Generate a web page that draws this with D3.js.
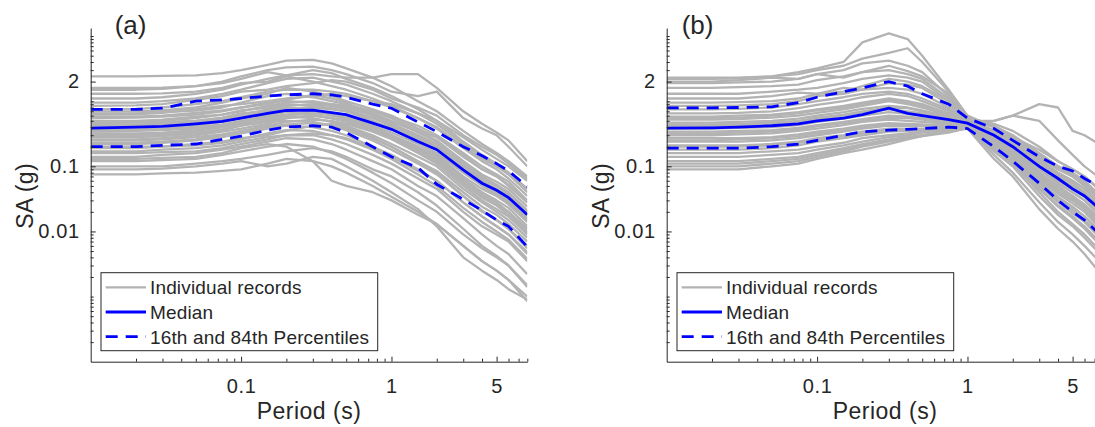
<!DOCTYPE html>
<html>
<head>
<meta charset="utf-8">
<script src="https://cdn.jsdelivr.net/npm/d3@7"></script>
<style>
  body { margin: 0; background: #fff; }
  svg text { font-family: Arial, "Liberation Sans", Helvetica, sans-serif; fill: #262626; }
</style>
</head>
<body>
<div id="ui"></div>
<script>
// periods (s) at which every spectrum is sampled
var periods = [0.01, 0.02, 0.03, 0.05, 0.075, 0.1, 0.15, 0.2, 0.3, 0.4, 0.5, 0.75, 1, 1.5, 2, 3, 4, 5, 6, 8];

// panel (a) individual records, SA (g)
var recordsA = [
  [2.4,2.4,2.45,2.5,2.7,3.0,3.6,4.2,4.3,3.8,3.2,2.3,1.7,1.0,0.7,0.35,0.22,0.16,0.12,0.07],
  [1.1,1.1,1.15,1.3,1.5,1.8,2.2,2.5,2.6,2.4,2.3,2.3,2.6,2.6,1.6,0.7,0.45,0.33,0.25,0.12],
  [1.5,1.5,1.55,1.7,2.0,2.4,3.0,3.3,3.4,3.0,2.6,1.9,1.4,1.2,1.4,0.55,0.38,0.3,0.2,0.1],
  [0.95,0.95,1.0,1.1,1.3,1.5,1.9,2.2,2.3,2.0,1.8,1.3,1.0,0.65,0.5,0.28,0.18,0.13,0.1,0.06],
  [0.85,0.86,0.9,1.05,1.2,1.4,1.5,1.7,1.9,2.1,2.0,1.5,1.1,0.8,0.6,0.3,0.2,0.15,0.11,0.065],
  [0.75,0.76,0.8,0.9,1.0,1.15,1.4,1.5,1.5,1.4,1.3,1.0,0.8,0.55,0.4,0.2,0.13,0.1,0.08,0.045],
  [0.7,0.7,0.72,0.8,0.95,1.1,1.3,1.6,1.4,1.2,1.0,0.75,0.6,0.38,0.28,0.14,0.09,0.07,0.05,0.028],
  [0.62,0.63,0.66,0.75,0.85,0.9,1.0,1.1,1.2,1.3,1.2,1.0,0.9,0.65,0.45,0.22,0.14,0.1,0.075,0.04],
  [0.55,0.56,0.58,0.62,0.7,0.8,0.95,1.0,0.95,0.85,0.75,0.55,0.42,0.28,0.2,0.1,0.06,0.045,0.035,0.018],
  [0.5,0.5,0.52,0.58,0.62,0.7,0.85,0.95,1.0,0.9,0.85,0.65,0.5,0.33,0.24,0.12,0.075,0.058,0.045,0.024],
  [0.46,0.47,0.48,0.5,0.55,0.62,0.75,0.85,0.9,0.85,0.8,0.6,0.48,0.35,0.28,0.15,0.09,0.07,0.052,0.028],
  [0.42,0.43,0.45,0.5,0.56,0.65,0.7,0.75,0.7,0.6,0.55,0.4,0.3,0.2,0.15,0.07,0.045,0.035,0.026,0.014],
  [0.4,0.4,0.42,0.45,0.5,0.55,0.62,0.7,0.8,0.75,0.7,0.55,0.45,0.3,0.22,0.11,0.07,0.05,0.038,0.02],
  [0.37,0.37,0.38,0.42,0.48,0.56,0.7,0.8,0.75,0.62,0.52,0.36,0.28,0.17,0.12,0.055,0.035,0.026,0.02,0.01],
  [0.34,0.35,0.36,0.38,0.42,0.48,0.55,0.6,0.65,0.62,0.58,0.48,0.4,0.28,0.2,0.1,0.06,0.045,0.035,0.019],
  [0.31,0.31,0.32,0.35,0.4,0.45,0.5,0.55,0.6,0.55,0.48,0.36,0.3,0.19,0.13,0.06,0.038,0.028,0.02,0.011],
  [0.28,0.28,0.29,0.32,0.36,0.42,0.52,0.58,0.55,0.48,0.42,0.3,0.22,0.14,0.1,0.045,0.028,0.02,0.015,0.008],
  [0.25,0.25,0.26,0.28,0.31,0.35,0.42,0.48,0.52,0.5,0.45,0.34,0.26,0.16,0.11,0.05,0.03,0.022,0.017,0.009],
  [0.22,0.22,0.23,0.25,0.28,0.32,0.38,0.42,0.4,0.35,0.3,0.2,0.15,0.09,0.06,0.028,0.017,0.012,0.009,0.0045],
  [0.2,0.2,0.2,0.22,0.24,0.27,0.3,0.35,0.42,0.45,0.4,0.28,0.2,0.12,0.08,0.035,0.02,0.015,0.011,0.006],
  [0.17,0.17,0.18,0.19,0.21,0.24,0.28,0.3,0.3,0.26,0.22,0.15,0.11,0.065,0.045,0.02,0.012,0.009,0.007,0.0035],
  [0.14,0.14,0.15,0.16,0.18,0.2,0.24,0.27,0.26,0.22,0.18,0.12,0.09,0.05,0.035,0.016,0.009,0.006,0.0045,0.0022],
  [0.12,0.12,0.125,0.13,0.15,0.17,0.2,0.22,0.2,0.16,0.13,0.08,0.055,0.03,0.02,0.009,0.0055,0.004,0.003,0.0014],
  [0.1,0.1,0.1,0.11,0.12,0.13,0.15,0.17,0.19,0.17,0.14,0.09,0.07,0.04,0.025,0.011,0.006,0.0042,0.003,0.0015],
  [0.09,0.09,0.092,0.1,0.11,0.12,0.1,0.11,0.14,0.13,0.1,0.06,0.04,0.022,0.012,0.004,0.0025,0.0018,0.0013,0.0009],
  [0.075,0.075,0.078,0.08,0.085,0.09,0.11,0.13,0.12,0.1,0.08,0.05,0.034,0.02,0.013,0.006,0.0035,0.0025,0.0018,0.00085],
  [1.6,1.6,1.62,1.7,1.9,2.2,2.8,2.5,3.0,2.7,2.2,1.6,1.2,0.75,0.5,0.24,0.15,0.11,0.08,0.045],
  [1.3,1.3,1.32,1.4,1.6,1.9,2.0,2.4,2.0,1.7,1.5,1.1,0.85,0.55,0.38,0.19,0.12,0.09,0.065,0.035],
  [0.65,0.65,0.68,0.72,0.8,0.95,1.2,1.3,1.15,1.0,0.9,0.7,0.55,0.35,0.25,0.12,0.07,0.052,0.04,0.021],
  [0.58,0.58,0.6,0.66,0.72,0.8,0.9,1.05,1.25,1.1,0.95,0.6,0.45,0.3,0.22,0.11,0.065,0.05,0.04,0.02],
  [0.48,0.48,0.5,0.55,0.62,0.72,0.8,0.9,0.85,0.78,0.7,0.5,0.38,0.26,0.19,0.09,0.055,0.04,0.03,0.016],
  [0.44,0.44,0.45,0.48,0.52,0.58,0.68,0.75,0.82,0.9,0.85,0.7,0.58,0.42,0.3,0.16,0.1,0.075,0.058,0.03],
  [0.36,0.36,0.37,0.4,0.44,0.5,0.6,0.68,0.62,0.55,0.5,0.38,0.3,0.2,0.14,0.065,0.04,0.03,0.023,0.012],
  [0.32,0.32,0.33,0.36,0.4,0.46,0.58,0.62,0.7,0.66,0.6,0.42,0.33,0.22,0.16,0.08,0.05,0.037,0.028,0.015],
  [0.29,0.3,0.3,0.33,0.37,0.42,0.48,0.5,0.48,0.42,0.38,0.27,0.2,0.12,0.085,0.04,0.024,0.018,0.013,0.007],
  [0.26,0.26,0.27,0.3,0.34,0.38,0.45,0.55,0.6,0.55,0.5,0.36,0.28,0.18,0.12,0.055,0.033,0.025,0.018,0.0095],
  [0.23,0.23,0.24,0.26,0.3,0.34,0.4,0.44,0.46,0.42,0.36,0.25,0.18,0.11,0.075,0.035,0.021,0.015,0.011,0.0055],
  [0.19,0.19,0.2,0.21,0.23,0.26,0.32,0.36,0.35,0.3,0.26,0.18,0.13,0.075,0.05,0.023,0.014,0.01,0.0075,0.0038],
  [0.16,0.16,0.165,0.17,0.19,0.22,0.26,0.3,0.32,0.3,0.27,0.19,0.14,0.085,0.06,0.028,0.017,0.012,0.009,0.0048],
  [0.13,0.13,0.135,0.14,0.16,0.19,0.22,0.2,0.12,0.06,0.05,0.04,0.03,0.018,0.013,0.006,0.0035,0.0025,0.0018,0.001]
];
var medianA = [0.385,0.40,0.41,0.45,0.49,0.55,0.65,0.72,0.73,0.67,0.62,0.46,0.37,0.24,0.18,0.088,0.055,0.043,0.033,0.018];
var p84A = [0.75,0.75,0.78,1.0,1.05,1.1,1.2,1.25,1.3,1.25,1.15,0.9,0.78,0.48,0.34,0.2,0.145,0.11,0.085,0.049];
var p16A = [0.2,0.2,0.21,0.22,0.26,0.29,0.36,0.4,0.42,0.4,0.33,0.2,0.14,0.095,0.053,0.031,0.021,0.015,0.012,0.0058];

// panel (b) individual records, SA (g)
var recordsB = [
  [2.3,2.3,2.3,2.4,2.8,3.2,4.0,8.0,11.0,9.0,5.0,1.5,0.6,0.4,0.25,0.12,0.08,0.06,0.045,0.025],
  [2.2,2.2,2.25,2.4,2.6,3.0,3.5,4.5,5.5,6.5,4.0,1.4,0.55,0.45,0.35,0.2,0.12,0.09,0.07,0.04],
  [1.9,1.9,1.95,2.0,2.2,2.6,3.0,3.8,4.2,3.5,2.8,1.2,0.5,0.5,0.6,0.5,0.25,0.15,0.1,0.06],
  [1.6,1.6,1.65,1.7,1.8,2.1,2.4,2.8,3.0,2.6,2.2,1.1,0.55,0.42,0.3,0.15,0.1,0.075,0.055,0.03],
  [1.3,1.3,1.3,1.4,1.5,1.6,1.9,2.2,2.5,2.3,2.0,1.0,0.5,0.3,0.2,0.08,0.05,0.035,0.025,0.012],
  [0.85,0.85,0.86,0.9,1.0,1.2,1.3,1.5,1.6,1.5,1.3,0.8,0.48,0.35,0.27,0.14,0.09,0.07,0.05,0.028],
  [0.75,0.75,0.76,0.8,0.9,1.0,1.15,1.3,1.4,1.3,1.1,0.75,0.5,0.28,0.18,0.07,0.04,0.03,0.022,0.011],
  [0.65,0.65,0.66,0.7,0.78,0.88,1.0,1.15,1.3,1.2,1.0,0.7,0.45,0.32,0.22,0.1,0.06,0.045,0.034,0.018],
  [0.58,0.58,0.6,0.62,0.68,0.75,0.85,0.95,1.1,1.0,0.9,0.65,0.47,0.3,0.2,0.09,0.055,0.04,0.03,0.016],
  [0.52,0.52,0.53,0.56,0.6,0.66,0.75,0.85,1.0,0.9,0.8,0.6,0.44,0.26,0.17,0.07,0.04,0.03,0.022,0.012],
  [0.47,0.47,0.48,0.5,0.54,0.6,0.68,0.76,0.85,0.8,0.72,0.58,0.46,0.28,0.2,0.1,0.065,0.05,0.038,0.02],
  [0.42,0.42,0.43,0.45,0.48,0.53,0.6,0.68,0.75,0.7,0.65,0.55,0.45,0.25,0.16,0.065,0.038,0.027,0.02,0.01],
  [0.38,0.38,0.39,0.4,0.43,0.48,0.54,0.6,0.68,0.64,0.6,0.52,0.43,0.3,0.22,0.11,0.07,0.05,0.04,0.022],
  [0.34,0.34,0.35,0.36,0.39,0.43,0.48,0.53,0.6,0.58,0.55,0.5,0.42,0.22,0.14,0.055,0.03,0.021,0.015,0.008],
  [0.3,0.3,0.31,0.32,0.35,0.38,0.43,0.48,0.52,0.5,0.48,0.45,0.4,0.26,0.18,0.08,0.048,0.035,0.026,0.014],
  [0.27,0.27,0.27,0.28,0.31,0.34,0.38,0.42,0.46,0.45,0.44,0.42,0.41,0.2,0.12,0.045,0.025,0.017,0.012,0.006],
  [0.24,0.24,0.24,0.25,0.27,0.3,0.34,0.38,0.42,0.42,0.42,0.42,0.44,0.3,0.2,0.09,0.055,0.04,0.03,0.016],
  [0.21,0.21,0.21,0.22,0.24,0.27,0.3,0.34,0.38,0.38,0.38,0.4,0.42,0.22,0.13,0.05,0.028,0.019,0.014,0.007],
  [0.18,0.18,0.18,0.19,0.21,0.24,0.27,0.3,0.34,0.35,0.36,0.38,0.4,0.17,0.1,0.035,0.018,0.012,0.008,0.004],
  [0.16,0.16,0.16,0.17,0.18,0.2,0.23,0.27,0.3,0.32,0.34,0.38,0.45,0.24,0.15,0.06,0.033,0.023,0.017,0.009],
  [0.14,0.14,0.14,0.15,0.16,0.18,0.21,0.24,0.28,0.3,0.33,0.36,0.42,0.18,0.11,0.04,0.02,0.013,0.009,0.0045],
  [0.12,0.12,0.12,0.13,0.14,0.16,0.19,0.22,0.26,0.28,0.3,0.35,0.4,0.15,0.08,0.028,0.014,0.009,0.006,0.003],
  [0.1,0.1,0.1,0.11,0.12,0.14,0.17,0.2,0.24,0.27,0.3,0.34,0.38,0.13,0.07,0.022,0.011,0.007,0.0045,0.002],
  [0.09,0.09,0.09,0.1,0.11,0.13,0.16,0.18,0.22,0.26,0.29,0.35,0.44,0.35,0.28,0.13,0.08,0.06,0.045,0.024],
  [2.0,2.0,2.1,2.3,2.2,2.6,2.3,2.8,3.5,2.9,2.4,1.3,0.52,0.4,0.3,0.16,0.1,0.07,0.05,0.028],
  [1.1,1.1,1.1,1.2,1.35,1.3,1.6,1.5,1.9,1.8,1.6,0.9,0.5,0.36,0.28,0.18,0.12,0.09,0.07,0.038],
  [0.95,0.95,0.97,1.0,1.1,1.3,1.4,1.7,2.2,2.0,1.7,1.0,0.52,0.34,0.24,0.12,0.075,0.055,0.04,0.02],
  [0.55,0.55,0.56,0.6,0.65,0.72,0.8,0.9,1.05,0.95,0.85,0.62,0.46,0.34,0.26,0.14,0.09,0.07,0.052,0.028],
  [0.44,0.44,0.45,0.47,0.5,0.56,0.62,0.7,0.8,0.78,0.7,0.56,0.47,0.24,0.15,0.06,0.034,0.024,0.017,0.009],
  [0.32,0.32,0.33,0.34,0.37,0.41,0.46,0.5,0.56,0.55,0.52,0.47,0.42,0.33,0.27,0.15,0.1,0.08,0.06,0.032],
  [0.2,0.2,0.2,0.21,0.23,0.25,0.29,0.32,0.36,0.36,0.37,0.39,0.43,0.27,0.18,0.075,0.044,0.032,0.024,0.012],
  [0.11,0.11,0.11,0.12,0.13,0.15,0.18,0.21,0.25,0.27,0.29,0.33,0.39,0.19,0.12,0.045,0.024,0.016,0.011,0.0055],
  [0.25,0.25,0.26,0.27,0.29,0.32,0.36,0.4,0.44,0.44,0.43,0.42,0.45,0.5,0.6,0.9,0.8,0.35,0.3,0.2]
];
var medianB = [0.385,0.39,0.40,0.42,0.45,0.5,0.55,0.62,0.78,0.65,0.6,0.52,0.46,0.3,0.2,0.1,0.065,0.045,0.035,0.02];
var p84B = [0.79,0.79,0.8,0.82,0.95,1.15,1.4,1.6,2.0,1.7,1.3,0.9,0.55,0.38,0.25,0.14,0.1,0.085,0.065,0.045];
var p16B = [0.19,0.19,0.19,0.2,0.22,0.25,0.3,0.34,0.36,0.37,0.38,0.4,0.38,0.2,0.12,0.055,0.03,0.02,0.015,0.008];

// axis ticks
var xMajor = [0.1, 1, 5];
var xMajorLabels = ["0.1", "1", "5"];
var xMinor = [0.02,0.03,0.04,0.05,0.06,0.07,0.08,0.09,0.2,0.3,0.4,0.5,0.6,0.7,0.8,0.9,2,3,4,6,7,8];
var yMajor = [0.01, 0.1, 2];
var yMajorLabels = ["0.01", "0.1", "2"];
var yMinor = [0.0002,0.0003,0.0004,0.0005,0.0006,0.0007,0.0008,0.0009,0.001,
              0.002,0.003,0.004,0.005,0.006,0.007,0.008,0.009,
              0.02,0.03,0.04,0.05,0.06,0.07,0.08,0.09,
              0.2,0.3,0.4,0.5,0.6,0.7,0.8,0.9,1,3,4,5,6,7,8,9,10];
var legendLabels = ["Individual records", "Median", "16th and 84th Percentiles"];

var w = 1095, h = 427;
var plotTop = 28, plotBottom = 361.7, plotW = 436.6;
var grey = "#b3b3b3", blue = "#0000ff", ink = "#262626";

var svg = d3.select("#ui").append("svg")
            .attr("width", w)
            .attr("height", h);

function drawPanel(x0, id, title, records, med, lo, hi) {
    var x_scale = d3.scaleLog().domain([0.01, 8]).range([x0, x0 + plotW]);
    var y_scale = d3.scaleLog().domain([1e-4, 13.3]).range([plotBottom, plotTop]);

    svg.append("clipPath").attr("id", "clip" + id)
       .append("rect")
       .attr("x", x0).attr("y", plotTop)
       .attr("width", plotW).attr("height", plotBottom - plotTop);

    var line = d3.line()
                 .x((d, i) => x_scale(periods[i]))
                 .y(d => y_scale(d));

    var g = svg.append("g").attr("clip-path", "url(#clip" + id + ")");

    g.selectAll(".rec").data(records).enter().append("path")
     .attr("class", "rec")
     .attr("d", line)
     .attr("fill", "none")
     .attr("stroke", grey)
     .attr("stroke-width", 2.3)
     .attr("stroke-linejoin", "round");

    g.append("path").datum(med)
     .attr("d", line).attr("fill", "none")
     .attr("stroke", blue).attr("stroke-width", 2.8);

    g.selectAll(".pct").data([lo, hi]).enter().append("path")
     .attr("class", "pct")
     .attr("d", line).attr("fill", "none")
     .attr("stroke", blue).attr("stroke-width", 2.8)
     .attr("stroke-dasharray", "12,8");

    // axes, ticks pointing inward like matlab
    var xAxis = d3.axisBottom(x_scale).tickValues(xMajor)
                  .tickFormat((d, i) => xMajorLabels[i])
                  .tickSizeInner(-5).tickSizeOuter(0).tickPadding(17);
    var xMinorAxis = d3.axisBottom(x_scale).tickValues(xMinor)
                       .tickFormat("").tickSizeInner(-3).tickSizeOuter(0);
    var yAxis = d3.axisLeft(y_scale).tickValues(yMajor)
                  .tickFormat((d, i) => yMajorLabels[i])
                  .tickSizeInner(-5).tickSizeOuter(0).tickPadding(11);
    var yMinorAxis = d3.axisLeft(y_scale).tickValues(yMinor)
                       .tickFormat("").tickSizeInner(-3).tickSizeOuter(0);

    svg.append("g").attr("transform", "translate(0," + plotBottom + ")")
       .call(xMinorAxis).attr("color", ink).select(".domain").remove();
    svg.append("g").attr("transform", "translate(" + x0 + ",0)")
       .call(yMinorAxis).attr("color", ink).select(".domain").remove();

    svg.append("g").attr("class", "xaxis axis")
       .attr("transform", "translate(0," + plotBottom + ")")
       .call(xAxis).attr("color", ink)
       .attr("font-size", 20).attr("font-family", null)
       .attr("letter-spacing", 0.6);
    svg.append("g").attr("class", "yaxis axis")
       .attr("transform", "translate(" + x0 + ",0)")
       .call(yAxis).attr("color", ink)
       .attr("font-size", 20).attr("font-family", null)
       .attr("letter-spacing", 0.6);

    svg.append("text")
       .attr("x", x0 + plotW / 2).attr("y", 419)
       .attr("text-anchor", "middle")
       .attr("font-size", 23)
       .attr("letter-spacing", 0.5)
       .text("Period (s)");

    svg.append("text")
       .attr("text-anchor", "middle")
       .attr("transform", "translate(" + (x0 - 58) + "," + 196 + ")rotate(-90)")
       .attr("font-size", 23)
       .attr("letter-spacing", 0.3)
       .text("SA (g)");

    svg.append("text")
       .attr("x", x0 + (id == "a" ? 24 : 15)).attr("y", 34)
       .attr("font-size", 26)
       .text(title);

    // legend
    var lx = x0 + 10.3, ly = 272.7;
    var lg = svg.append("g");
    lg.append("rect")
      .attr("x", lx).attr("y", ly)
      .attr("width", 276.7).attr("height", 78)
      .attr("fill", "#fff").attr("stroke", ink).attr("stroke-width", 1);

    var rows = lg.selectAll(".row").data(legendLabels).enter().append("g")
                 .attr("transform", (d, i) => "translate(" + lx + "," + (ly + 14.6 + i * 24.7) + ")");
    rows.append("line")
        .attr("x1", 4.7).attr("x2", 45).attr("y1", 0).attr("y2", 0)
        .attr("stroke", (d, i) => i == 0 ? grey : blue)
        .attr("stroke-width", (d, i) => i == 0 ? 2.3 : 2.8)
        .attr("stroke-dasharray", (d, i) => i == 2 ? "12,8" : null);
    rows.append("text")
        .attr("x", 49).attr("y", 7)
        .attr("font-size", 19)
        .attr("letter-spacing", 0.15)
        .text(d => d);
}

drawPanel(90.7, "a", "(a)", recordsA, medianA, p16A, p84A);
drawPanel(666.7, "b", "(b)", recordsB, medianB, p16B, p84B);
</script>
</body>
</html>
